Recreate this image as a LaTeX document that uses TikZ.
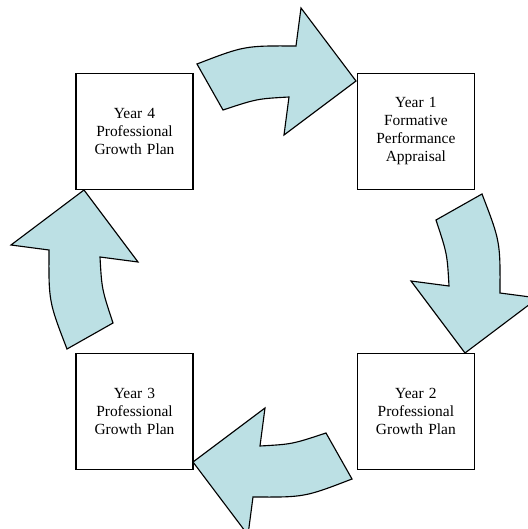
\documentclass[tikz,border=0pt]{standalone}
\usepackage{fontspec}
\setmainfont{Liberation Serif}
\usetikzlibrary{positioning}
\definecolor{arrowfill}{RGB}{188,224,228}

\begin{document}
\begin{tikzpicture}[x=0.025cm, y=0.025cm, node distance=4.08cm]
    \tikzset{
        yearbox/.style = {rectangle, draw=black, line width=0.8pt, fill=white, minimum width=2.925cm, minimum height=2.9cm,
                          text width=2.6cm, align=center, inner sep=0pt, font=\fontsize{11}{12.8}\selectfont},
        cyclearrow/.style = {draw=black, line width=0.8pt, fill=arrowfill, line join=miter},
    }
    \clip (0,0) rectangle (528,529);
    \coordinate (c) at (274.5,257.5);

    \node (year4) [yearbox] at (134.5,397.5) {Year 4\\Professional\\Growth Plan};
    \node (year1) [yearbox, right=of year4] {Year 1\\Formative\\Performance\\Appraisal};
    \node (year2) [yearbox, below=of year1] {Year 2\\Professional\\Growth Plan};
    \node (year3) [yearbox, left=of year2] {Year 3\\Professional\\Growth Plan};

    \foreach \ang in {0,-90,-180,-270}
        \draw [cyclearrow, shift={(c)}, rotate=\ang]
            (81.5,190.5) -- (26.5,263.5) -- (21.5,225.5)
            .. controls (-30,225.8) .. (-77.5,207.5) -- (-51.5,161.5)
            .. controls (-17.6,172.7) .. (14.5,174.5) -- (9.5,136.5) -- cycle;
\end{tikzpicture}
\end{document}
